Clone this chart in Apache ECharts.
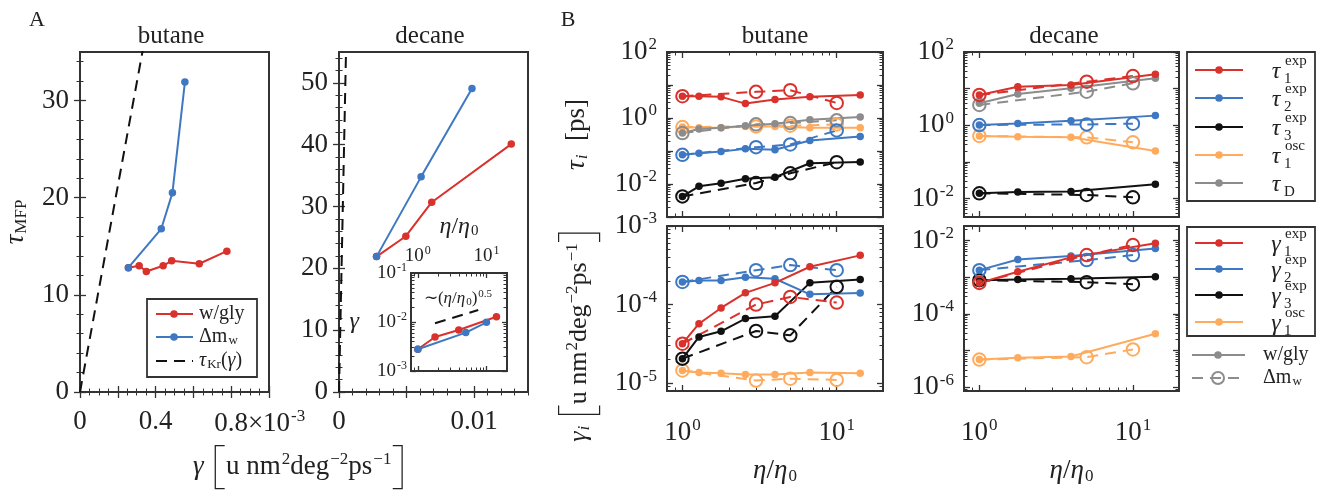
<!DOCTYPE html>
<html>
<head>
<meta charset="utf-8">
<script src="https://cdn.jsdelivr.net/npm/echarts@6/dist/echarts.min.js"></script>
<style>
html, body { margin: 0; padding: 0; background: #fff; }
#chart { width: 1322px; height: 495px; }
</style>
</head>
<body>
<div id="chart"></div>
<script>
// ---------- panel A : tau_MFP vs gamma ----------
var butaneGammaGly = [0.256e-3, 0.313e-3, 0.351e-3, 0.440e-3, 0.485e-3, 0.631e-3, 0.777e-3];
var butaneTauGly = [12.8, 13.0, 12.4, 13.0, 13.5, 13.2, 14.5];
var butaneGammaDm = [0.256e-3, 0.430e-3, 0.489e-3, 0.555e-3];
var butaneTauDm = [12.8, 16.8, 20.5, 31.9];
var decaneGammaGly = [0.00278, 0.00495, 0.00687, 0.01276];
var decaneTauGly = [21.9, 25.2, 30.7, 40.1];
var decaneGammaDm = [0.00278, 0.00608, 0.00985];
var decaneTauDm = [21.9, 34.8, 49.1];
// tau_Kr(gamma) dashed line, end points
var kramersGamma = [0, 0.00055];
var kramersTau = [0, 58.3];
// inset guide ~ (eta/eta0)^0.5
var guideEta = [1.78, 7.6];
var guideGamma = [0.0094, 0.0176];

// ---------- panel B : eta/eta0 ----------
var butaneEtaGly = [1, 1.28, 1.78, 2.56, 3.98, 6.7, 14.2];
var butaneEtaDm = [1, 3, 5, 10];
var decaneEtaGly = [1, 1.78, 3.95, 14];
var decaneEtaDm = [1, 5, 10];

// butane tau_i [ps]
var bTau1Gly = [4.57, 4.57, 4.37, 2.73, 3.61, 4.37, 5.02];
var bTau1Dm = [4.57, 6.2, 6.96, 2.86];
var bTau2Gly = [0.0764, 0.0859, 0.0966, 0.116, 0.109, 0.209, 0.276];
var bTau2Dm = [0.0764, 0.131, 0.158, 0.421];
var bTau3Gly = [0.00421, 0.0085, 0.0105, 0.0145, 0.016, 0.0426, 0.0468];
var bTau3Dm = [0.00421, 0.0107, 0.0211, 0.0457];
var bTauOscGly = [0.532, 0.508, 0.508, 0.557, 0.557, 0.508, 0.508];
var bTauOscDm = [0.532, 0.557, 0.584, 0.64];
var bTauDGly = [0.349, 0.462, 0.508, 0.584, 0.672, 0.89, 1.07];
var bTauDDm = [0.349, 0.641, 0.705, 0.849];

// butane gamma_i
var bG1Gly = [3.18e-5, 5.71e-5, 9.06e-5, 1.41e-4, 1.89e-4, 3.03e-4, 4.23e-4];
var bG1Dm = [3.18e-5, 1.0e-4, 1.25e-4, 1.06e-4];
var bG2Gly = [1.94e-4, 2.02e-4, 2.02e-4, 2.23e-4, 2.13e-4, 1.35e-4, 1.4e-4];
var bG2Dm = [1.94e-4, 2.74e-4, 3.18e-4, 2.74e-4];
var bG3Gly = [2.05e-5, 3.87e-5, 4.57e-5, 6.63e-5, 7.1e-5, 1.89e-4, 2.09e-4];
var bG3Dm = [2.05e-5, 4.61e-5, 4.06e-5, 1.68e-4];
var bGOscGly = [1.45e-5, 1.37e-5, 1.34e-5, 1.29e-5, 1.29e-5, 1.37e-5, 1.34e-5];
var bGOscDm = [1.45e-5, 1.08e-5, 1.14e-5, 1.1e-5];

// decane tau_i [ps]
var dTau1Gly = [6.72, 11.3, 12.6, 24.6];
var dTau1Dm = [6.72, 15.5, 22.1];
var dTau2Gly = [1.02, 1.13, 1.34, 1.84];
var dTau2Dm = [1.02, 1.06, 1.11];
var dTau3Gly = [0.014, 0.0152, 0.0158, 0.0246];
var dTau3Dm = [0.014, 0.0126, 0.0109];
var dTauOscGly = [0.512, 0.491, 0.471, 0.2];
var dTauOscDm = [0.512, 0.471, 0.344];
var dTauDGly = [3.98, 7.16, 10.2, 19.1];
var dTauDDm = [3.59, 8.28, 14.0];

// decane gamma_i
var dG1Gly = [7.06e-4, 1.42e-3, 3.5e-3, 8.45e-3];
var dG1Dm = [7.06e-4, 4.05e-3, 7.6e-3];
var dG2Gly = [1.57e-3, 3.08e-3, 3.8e-3, 6.16e-3];
var dG2Dm = [1.57e-3, 2.95e-3, 4.05e-3];
var dG3Gly = [8.35e-4, 8.72e-4, 9.1e-4, 1.03e-3];
var dG3Dm = [8.35e-4, 7.38e-4, 6.5e-4];
var dGOscGly = [5.73e-6, 6.37e-6, 6.92e-6, 2.89e-5];
var dGOscDm = [5.73e-6, 6.64e-6, 1.08e-5];

var FONT = 'Liberation Serif';
var INK = '#222';
var FRAME = '#333';
var RED = '#d9312b';
var BLUE = '#3f78c2';
var BLACK = '#111';
var ORANGE = '#ffab5e';
var GRAY = '#8c8c8c';
var DASH = [11, 7];

var chart = echarts.init(document.getElementById('chart'));

function rich(size) {
	var small = Math.round(size * 0.64);
	return {
		b: { fontFamily: FONT, fontSize: size, color: INK },
		i: { fontFamily: FONT, fontSize: size, color: INK, fontStyle: 'italic' },
		s: { fontFamily: FONT, fontSize: small, color: INK, padding: [0, 0, Math.round(size * 0.5), 1] },
		sub: { fontFamily: FONT, fontSize: small, color: INK, padding: [Math.round(size * 0.42), 0, 0, 1] },
		subi: { fontFamily: FONT, fontSize: small, color: INK, fontStyle: 'italic', padding: [Math.round(size * 0.42), 0, 0, 1] },
		// thin, tall brackets
		k: { fontFamily: 'Noto Sans', fontWeight: 100, fontSize: Math.round(size * 1.85), color: INK },
		p: { fontFamily: FONT, fontSize: size, width: Math.round(size * 2.1) }
	};
}

function logTicks(min, max) {
	var major = [], minor = [];
	for (var d = Math.floor(Math.log10(min)); d <= Math.ceil(Math.log10(max)); d++) {
		var p = Math.pow(10, d);
		if (p >= min * 0.999 && p <= max * 1.001) major.push(p);
		for (var k = 2; k < 10; k++) {
			if (k * p >= min && k * p <= max) minor.push(k * p);
		}
	}
	return { major: major, minor: minor };
}

function linTicks(min, max, majorStep, minorStep) {
	var major = [], minor = [];
	var n = Math.round((max - min) / minorStep);
	for (var i = 0; i <= n; i++) {
		var v = +(min + i * minorStep).toFixed(8);
		var r = v / majorStep;
		if (Math.abs(r - Math.round(r)) < 1e-6) major.push(v); else minor.push(v);
	}
	return { major: major, minor: minor };
}

function powLabel(v) {
	return '{b|10}{s|' + Math.round(Math.log10(v)) + '}';
}

var xAxes = [], yAxes = [];

// one major + one minor axis on each side of the frame; returns index of the labelled one
function addAxes(list, grid, sides, sc, labelSide, nameCfg) {
	var mainIdx = -1;
	sides.forEach(function (pos) {
		var base = {
			gridIndex: grid, type: sc.type, position: pos, min: sc.min, max: sc.max,
			axisLine: { show: false }, splitLine: { show: false }, minorTick: { show: false }
		};
		var labelled = pos === labelSide;
		var major = Object.assign({}, base, {
			axisTick: { show: true, inside: true, length: sc.tickLen || 6, lineStyle: { color: FRAME, width: 1.3 }, customValues: sc.major },
			axisLabel: labelled ? {
				show: true, customValues: sc.labels, formatter: sc.fmt, margin: sc.margin,
				fontFamily: FONT, fontSize: sc.size, color: INK, rich: rich(sc.size)
			} : { show: false }
		});
		if (labelled && nameCfg) Object.assign(major, nameCfg);
		list.push(major);
		if (labelled || mainIdx < 0) mainIdx = list.length - 1;
		list.push(Object.assign({}, base, {
			axisTick: { show: true, inside: true, length: 3.5, lineStyle: { color: FRAME, width: 1 }, customValues: sc.minor },
			axisLabel: { show: false }
		}));
	});
	return mainIdx;
}

var grids = [
	{ left: 80, top: 52, width: 189, height: 340 },
	{ left: 339, top: 52, width: 189, height: 340 },
	{ left: 411, top: 273, width: 96, height: 98 },
	{ left: 667, top: 52, width: 216, height: 165 },
	{ left: 667, top: 226, width: 216, height: 165 },
	{ left: 964, top: 52, width: 215, height: 165 },
	{ left: 964, top: 226, width: 215, height: 165 }
];

var series = [];
function addLine(xi, yi, xs, ys, color, dm) {
	series.push({
		type: 'line', xAxisIndex: xi, yAxisIndex: yi, silent: true,
		data: xs.map(function (x, i) { return [x, ys[i]]; }),
		symbol: 'circle', symbolSize: dm ? 12.5 : 7.5,
		lineStyle: { color: color, width: 2, type: dm ? DASH : 'solid' },
		itemStyle: dm ? { color: 'rgba(255,255,255,0)', borderColor: color, borderWidth: 2 } : { color: color },
		emphasis: { disabled: true }
	});
}
function addDash(xi, yi, xs, ys) {
	series.push({
		type: 'line', xAxisIndex: xi, yAxisIndex: yi, silent: true, symbol: 'none',
		data: xs.map(function (x, i) { return [x, ys[i]]; }),
		lineStyle: { color: BLACK, width: 2, type: DASH }
	});
}

var etaMin = Math.pow(10, -0.1), etaMax = Math.pow(10, 1.3);
var etaT = logTicks(etaMin, etaMax);
var tick = function (t, extra) { return Object.assign({ major: t.major, minor: t.minor }, extra); };

// ---- A butane ----
var t = linTicks(0, 0.001, 0.0002, 0.00005);
var ax = addAxes(xAxes, 0, ['bottom', 'top'], tick(t, {
	type: 'value', min: 0, max: 0.001, labels: [0, 0.0004, 0.0008], size: 27, margin: 16,
	fmt: function (v) {
		if (v === 0) return '{b|0}';
		if (Math.abs(v - 0.0004) < 1e-9) return '{b|0.4}';
		return '{p| }{b|0.8×10}{s|-3}';
	}
}), 'bottom');
t = linTicks(0, 34, 10, 2);
var ay = addAxes(yAxes, 0, ['left', 'right'], tick(t, {
	type: 'value', min: 0, max: 35, labels: [0, 10, 20, 30], size: 27, margin: 11,
	fmt: function (v) { return '{b|' + v + '}'; }
}), 'left', {
	name: '{i|τ}{sub|MFP}', nameLocation: 'middle', nameGap: 50, nameRotate: 90,
	nameTextStyle: { rich: rich(27) }
});
addDash(ax, ay, kramersGamma, kramersTau);
addLine(ax, ay, butaneGammaGly, butaneTauGly, RED, false);
addLine(ax, ay, butaneGammaDm, butaneTauDm, BLUE, false);

// ---- A decane ----
t = linTicks(0, 0.014, 0.005, 0.001);
ax = addAxes(xAxes, 1, ['bottom', 'top'], tick(t, {
	type: 'value', min: 0, max: 0.014, labels: [0, 0.01], size: 27, margin: 16,
	fmt: function (v) { return '{b|' + (v === 0 ? '0' : '0.01') + '}'; }
}), 'bottom');
t = linTicks(0, 54, 10, 2);
ay = addAxes(yAxes, 1, ['left', 'right'], tick(t, {
	type: 'value', min: 0, max: 55, labels: [0, 10, 20, 30, 40, 50], size: 27, margin: 11,
	fmt: function (v) { return '{b|' + v + '}'; }
}), 'left');
addDash(ax, ay, kramersGamma, kramersTau);
addLine(ax, ay, decaneGammaGly, decaneTauGly, RED, false);
addLine(ax, ay, decaneGammaDm, decaneTauDm, BLUE, false);

// ---- inset ----
ax = addAxes(xAxes, 2, ['top', 'bottom'], tick(etaT, {
	type: 'log', min: etaMin, max: etaMax, labels: [1, 10], size: 19, margin: 6, tickLen: 5, fmt: powLabel
}), 'top', {
	name: '{i|η}{b|/}{i|η}{sub|0}', nameLocation: 'middle', nameGap: 34,
	nameTextStyle: { rich: rich(24) }
});
var gT = logTicks(1e-3, 1e-1);
ay = addAxes(yAxes, 2, ['left', 'right'], tick(gT, {
	type: 'log', min: 1e-3, max: 1e-1, labels: [1e-3, 1e-2, 1e-1], size: 19, margin: 4, tickLen: 5, fmt: powLabel
}), 'left', {
	name: '{i|γ}', nameLocation: 'middle', nameGap: 52, nameRotate: 0,
	nameTextStyle: { rich: rich(24) }
});
addDash(ax, ay, guideEta, guideGamma);
addLine(ax, ay, decaneEtaGly, decaneGammaGly, RED, false);
addLine(ax, ay, decaneEtaDm, decaneGammaDm, BLUE, false);

// ---- B panels ----
function panelB(grid, xLabels, yMin, yMax, yLabels, yName) {
	var xa = addAxes(xAxes, grid, ['bottom', 'top'], tick(etaT, {
		type: 'log', min: etaMin, max: etaMax, labels: xLabels ? [1, 10] : [], size: 27, margin: 26, fmt: powLabel
	}), xLabels ? 'bottom' : 'none', xLabels ? {
		name: '{i|η}{b|/}{i|η}{sub|0}', nameLocation: 'middle', nameGap: 66,
		nameTextStyle: { rich: rich(27) }
	} : null);
	var ya = addAxes(yAxes, grid, ['left', 'right'], tick(logTicks(yMin, yMax), {
		type: 'log', min: yMin, max: yMax, labels: yLabels, size: 27, margin: 10, fmt: powLabel
	}), 'left', yName);
	return [xa, ya];
}

function drawSet(a, etaGly, etaDm, sets) {
	sets.forEach(function (s) {
		addLine(a[0], a[1], etaGly, s[1], s[0], false);
		addLine(a[0], a[1], etaDm, s[2], s[0], true);
	});
}

var a = panelB(3, false, 1e-3, 1e2, [1e2, 1, 1e-2], {
	name: '{i|τ}{subi|i}{b|  [ps]}', nameLocation: 'middle', nameGap: 76, nameRotate: 90,
	nameTextStyle: { rich: rich(27) }
});
drawSet(a, butaneEtaGly, butaneEtaDm, [
	[ORANGE, bTauOscGly, bTauOscDm], [GRAY, bTauDGly, bTauDDm], [BLACK, bTau3Gly, bTau3Dm],
	[BLUE, bTau2Gly, bTau2Dm], [RED, bTau1Gly, bTau1Dm]
]);
a = panelB(4, true, Math.pow(10, -5.1), 1e-3, [1e-5, 1e-4, 1e-3], null);
drawSet(a, butaneEtaGly, butaneEtaDm, [
	[ORANGE, bGOscGly, bGOscDm], [BLACK, bG3Gly, bG3Dm], [BLUE, bG2Gly, bG2Dm], [RED, bG1Gly, bG1Dm]
]);
a = panelB(5, false, Math.pow(10, -2.5), 1e2, [1e2, 1, 1e-2], null);
drawSet(a, decaneEtaGly, decaneEtaDm, [
	[ORANGE, dTauOscGly, dTauOscDm], [BLACK, dTau3Gly, dTau3Dm], [BLUE, dTau2Gly, dTau2Dm],
	[GRAY, dTauDGly, dTauDDm], [RED, dTau1Gly, dTau1Dm]
]);
a = panelB(6, true, Math.pow(10, -6.1), Math.pow(10, -1.6), [1e-6, 1e-4, 1e-2], null);
drawSet(a, decaneEtaGly, decaneEtaDm, [
	[ORANGE, dGOscGly, dGOscDm], [BLACK, dG3Gly, dG3Dm], [BLUE, dG2Gly, dG2Dm], [RED, dG1Gly, dG1Dm]
]);

// ---------- texts & legends ----------
function txt(x, y, text, size, extra) {
	return {
		type: 'text', x: x, y: y, rotation: (extra && extra.rotation) || 0, silent: true,
		style: Object.assign({
			text: text, fontFamily: FONT, fontSize: size, fill: INK,
			align: 'center', verticalAlign: 'middle', rich: rich(size)
		}, extra && extra.style)
	};
}
function legLine(x1, x2, y, color, dashed) {
	return {
		type: 'line', silent: true, shape: { x1: x1, y1: y, x2: x2, y2: y },
		style: { stroke: color, lineWidth: 2, lineDash: dashed ? DASH : null }
	};
}
function legDot(x, y, color, open) {
	return {
		type: 'circle', silent: true, shape: { cx: x, cy: y, r: open ? 6 : 3.8 },
		style: open ? { fill: 'rgba(255,255,255,0)', stroke: color, lineWidth: 2 } : { fill: color }
	};
}
function box(x, y, w, h) {
	return { type: 'rect', silent: true, shape: { x: x, y: y, width: w, height: h }, style: { fill: '#fff', stroke: FRAME, lineWidth: 1.8 } };
}
function symEntry(y, color, sym, sup, sub) {
	var out = [legLine(1195, 1243, y, color, false), legDot(1219, y, color, false),
		txt(1276, y + 2, '{i|' + sym + '}', 24)];
	if (sup) out.push(txt(1285, y - 9, sup, 15, { style: { align: 'left' } }));
	out.push(txt(1284, y + 9, sub, 15, { style: { align: 'left' } }));
	return out;
}

var graphics = [
	txt(37, 20, 'A', 22), txt(568, 20, 'B', 22),
	txt(171, 36, 'butane', 25), txt(430, 36, 'decane', 25),
	txt(775, 36, 'butane', 25), txt(1064, 36, 'decane', 25),
	txt(300, 467, '{i|γ} {k|[}{b|u nm}{s|2}{b|deg}{s|−2}{b|ps}{s|−1}{k|]}', 27),
	txt(579, 335, '{i|γ}{subi|i} {k|[}{b|u nm}{s|2}{b|deg}{s|−2}{b|ps}{s|−1}{k|]}', 26, {
		rotation: Math.PI / 2
	}),
	txt(458, 299, '{b|∼(}{i|η}{b|/}{i|η}{sub|0}{b|)}{s|0.5}', 17),
	// panel A legend
	box(147, 299, 110, 78),
	legLine(156, 193, 314, RED, false), legDot(174, 314, RED, false),
	txt(199, 314, '{b|w/gly}', 20, { style: { align: 'left' } }),
	legLine(156, 193, 337, BLUE, false), legDot(174, 337, BLUE, false),
	txt(199, 337, '{b|Δm}{sub|w}', 20, { style: { align: 'left' } }),
	legLine(156, 193, 361, BLACK, true),
	txt(199, 361, '{i|τ}{sub|Kr}{b|(}{i|γ}{b|)}', 20, { style: { align: 'left' } }),
	// panel B legends
	box(1187, 52, 128, 149), box(1187, 227, 128, 109)
];
graphics = graphics.concat(
	symEntry(70, RED, 'τ', 'exp', '1'), symEntry(98, BLUE, 'τ', 'exp', '2'),
	symEntry(127, BLACK, 'τ', 'exp', '3'), symEntry(155, ORANGE, 'τ', 'osc', '1'),
	symEntry(183, GRAY, 'τ', null, 'D'),
	symEntry(243, RED, 'γ', 'exp', '1'), symEntry(269, BLUE, 'γ', 'exp', '2'),
	symEntry(295, BLACK, 'γ', 'exp', '3'), symEntry(322, ORANGE, 'γ', 'osc', '1'),
	[legLine(1192, 1245, 355, GRAY, false), legDot(1218, 355, GRAY, false),
		txt(1263, 355, '{b|w/gly}', 20, { style: { align: 'left' } }),
		legLine(1192, 1245, 378, GRAY, true), legDot(1218, 378, GRAY, true),
		txt(1263, 378, '{b|Δm}{sub|w}', 20, { style: { align: 'left' } })]
);

var option = {
	animation: false,
	backgroundColor: '#fff',
	grid: grids.map(function (g) {
		return Object.assign({ show: true, borderColor: FRAME, borderWidth: 2, backgroundColor: '#fff', containLabel: false, outerBoundsMode: 'none' }, g);
	}),
	xAxis: xAxes,
	yAxis: yAxes,
	series: series,
	graphic: graphics
};
chart.setOption(option);
</script>
</body>
</html>
